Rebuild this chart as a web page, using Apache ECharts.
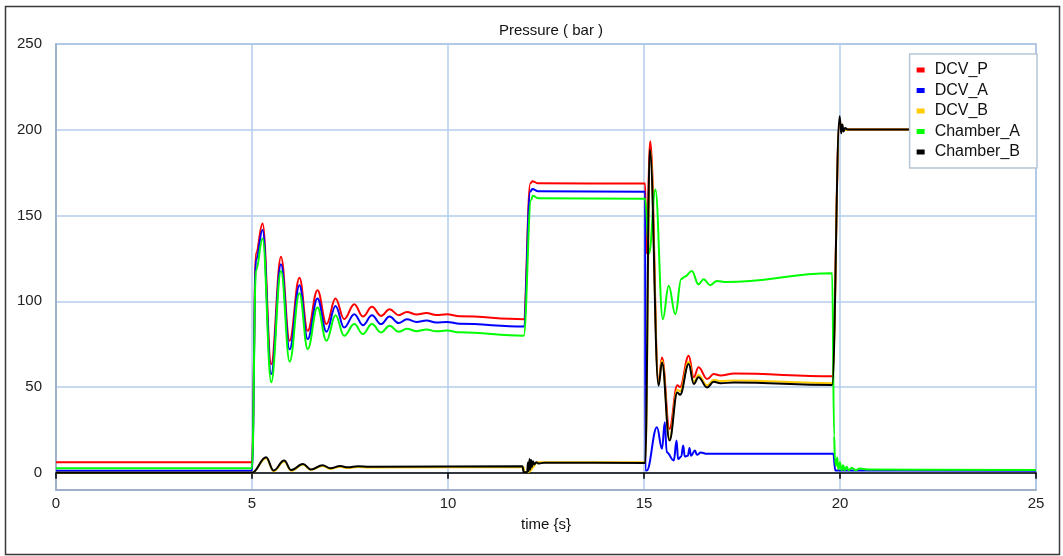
<!DOCTYPE html>
<html>
<head>
<meta charset="utf-8">
<title>Pressure ( bar )</title>
<script src="https://cdn.jsdelivr.net/npm/echarts@6/dist/echarts.min.js"></script>
<style>
    html, body { margin: 0; padding: 0; background: #fff; }
    #chart { width: 1063px; height: 556px; }
</style>
</head>
<body>
<div id="chart"></div>
<script>
// tick labels
var xTicks = [0, 5, 10, 15, 20, 25];
var yTicks = [0, 50, 100, 150, 200, 250];

var seriesNames = ["DCV_P", "DCV_A", "DCV_B", "Chamber_A", "Chamber_B"];
var seriesColors = ["#ff0000", "#0000ff", "#ffcc00", "#00ff00", "#000000"];

// [time (s), pressure (bar)], mostly peaks and troughs
var dcvP = [
    [0, 6.2], [5.0, 6.2], [5.1, 128], [5.27, 145.4], [5.49, 63.4], [5.74, 126], [5.96, 77], [6.21, 113.8],
    [6.42, 82.8], [6.67, 106.5], [6.9, 86.7], [7.13, 101.6], [7.35, 89.6], [7.61, 98.3], [7.83, 91.1],
    [8.06, 96.8], [8.29, 91.5], [8.51, 95.4], [8.74, 91.9], [8.95, 93.8], [9.2, 92.3], [9.45, 93.2],
    [9.7, 92], [9.97, 92.4], [10.3, 91.3], [11.93, 89.6], [12.1, 168.7], [12.15, 170], [12.3, 168.8],
    [15.03, 168.7], [15.06, 128], [15.16, 193.3], [15.37, 53], [15.46, 67.3], [15.65, 25.6], [15.85, 51],
    [15.92, 50], [16.14, 68.2], [16.27, 55.7], [16.39, 61.5], [16.61, 54.7], [16.78, 57.6], [16.95, 56.8],
    [17.3, 57.9], [19.8, 56.3], [19.99, 205], [20.05, 199.5], [20.2, 200.1], [25, 200.1]
];

var dcvA = [
    [0, 1.2], [5.0, 1.2], [5.1, 124], [5.27, 141.5], [5.49, 57.6], [5.74, 121.6], [5.96, 72], [6.21, 109.4],
    [6.42, 78], [6.67, 101.6], [6.9, 82.2], [7.13, 97.3], [7.35, 84.7], [7.61, 92.5], [7.83, 86.1],
    [8.06, 91.9], [8.29, 86.7], [8.51, 91.1], [8.74, 87.3], [8.95, 89.5], [9.2, 87.9], [9.45, 88.8],
    [9.7, 87.6], [9.97, 88], [10.3, 86.9], [11.93, 85.3], [12.1, 164], [12.15, 165.5], [12.3, 164.2],
    [15.03, 163.9], [15.035, 1.4], [15.07, 1.4], [15.33, 26.6], [15.46, 14], [15.53, 29.5], [15.58, 12],
    [15.76, 7.2], [15.83, 18.8], [15.87, 8], [15.95, 9.5], [16.0, 16], [16.04, 9.5], [16.12, 10],
    [16.16, 14.5], [16.2, 10], [16.3, 13], [16.35, 10.5], [16.45, 11.8], [16.61, 11.1], [19.83, 11.1],
    [19.88, 1.4], [25, 1.2]
];

var dcvB = [
    [0, 0], [5.0, 0], [5.36, 8.5], [5.55, 1], [5.82, 6.6], [6.0, 1.2], [6.3, 4.8], [6.5, 1.7], [6.8, 4],
    [7.0, 2.3], [7.25, 3.5], [7.45, 2.8], [7.7, 3.4], [8, 3.1], [11.93, 3.3], [11.95, 0.4], [12.05, 0.5],
    [12.3, 6.2], [15.03, 6.2], [15.16, 188], [15.37, 52], [15.46, 65.5], [15.65, 20], [15.85, 48.5],
    [15.92, 47.5], [16.14, 64.8], [16.27, 53], [16.39, 57], [16.61, 51], [16.78, 54.3], [16.95, 53.5],
    [17.3, 53.8], [19.8, 52.3], [19.99, 205], [20.05, 199.5], [20.2, 200.1], [25, 200.1]
];

var chamberA = [
    [0, 2.7], [5.0, 2.7], [5.1, 118], [5.27, 136.5], [5.49, 52.8], [5.74, 117.7], [5.96, 64.8],
    [6.21, 104.7], [6.42, 72.1], [6.67, 96.4], [6.9, 77], [7.13, 91.9], [7.35, 79.9], [7.61, 86.7],
    [7.83, 80.9], [8.06, 86.7], [8.29, 81.8], [8.51, 85.7], [8.74, 82.2], [8.95, 84], [9.2, 82.6],
    [9.45, 83.6], [9.7, 82.5], [9.97, 83], [10.3, 81.9], [11.93, 79.9], [12.12, 159], [12.16, 161.5],
    [12.3, 160.1], [15.03, 159.8], [15.13, 128], [15.29, 165.2], [15.48, 89.6], [15.63, 109], [15.8, 92.5],
    [15.95, 113], [16.05, 114.5], [16.22, 117.7], [16.39, 109.9], [16.52, 112.9], [16.69, 109.4],
    [16.86, 111.9], [17.1, 111.2], [19.8, 116.3], [19.85, 21.7], [19.87, 8], [19.9, 4.2], [19.93, 9],
    [19.96, 2], [20, 6], [20.04, 1.5], [20.08, 4.5], [20.12, 1.5], [20.17, 3.5], [20.22, 1.5], [20.3, 3],
    [20.4, 1.5], [20.5, 2.5], [20.7, 1.9], [25, 1.6]
];

var chamberB = [
    [0, 0], [5.0, 0], [5.36, 9.1], [5.55, 1.4], [5.82, 7.2], [6.0, 1.6], [6.3, 5.2], [6.5, 2], [6.8, 4.4],
    [7.0, 2.7], [7.25, 4], [7.45, 3.2], [7.7, 3.9], [8, 3.6], [11.9, 3.9], [11.93, 0.4], [12.02, 0.4],
    [12.04, 6], [12.06, 1], [12.08, 8], [12.1, 2], [12.12, 7.5], [12.14, 3.5], [12.17, 6.8], [12.2, 4.8],
    [12.25, 6.2], [12.32, 5.4], [12.45, 5.9], [15.03, 5.8], [15.15, 188.5], [15.37, 50.8], [15.46, 64.4],
    [15.65, 18.8], [15.85, 46.9], [15.92, 45.5], [16.14, 63.4], [16.27, 51.8], [16.39, 55.7], [16.61, 49.8],
    [16.78, 53.1], [16.95, 52.3], [17.3, 52.6], [19.8, 51.2], [19.99, 207.9], [20.03, 198], [20.06, 203],
    [20.09, 199], [20.13, 201], [20.2, 200.1], [25, 200.1]
];

var seriesData = [dcvP, dcvA, dcvB, chamberA, chamberB];

var font = "Liberation Sans, Arial, sans-serif";
var frameColor = "#98abc4";
var gridColor = "#b3cdec";

var chart = echarts.init(document.getElementById("chart"), null, { renderer: "canvas" });

chart.setOption({
    animation: false,
    backgroundColor: "#fff",
    textStyle: { fontFamily: font },
    title: {
        text: "Pressure ( bar )",
        left: 546,
        textAlign: "center",
        top: 18,
        textStyle: { fontFamily: font, fontSize: 15, fontWeight: "normal", color: "#111" }
    },
    legend: {
        data: seriesNames,
        orient: "vertical",
        right: 26,
        top: 54,
        z: 10,
        padding: [8, 17, 8, 7],
        itemGap: 4.5,
        itemWidth: 8,
        itemHeight: 5,
        icon: "rect",
        backgroundColor: "#fff",
        borderColor: "#b7c5d6",
        borderWidth: 1.5,
        textStyle: { fontFamily: font, fontSize: 16, color: "#111", padding: [0, 0, 0, 5] }
    },
    grid: {
        left: 56,
        right: 27,
        top: 44,
        bottom: 66,
        show: true,
        borderColor: frameColor,
        borderWidth: 1.5
    },
    xAxis: [
        {
            type: "value",
            min: 0,
            max: 25,
            interval: 5,
            name: "time {s}",
            nameLocation: "middle",
            nameGap: 27,
            nameTextStyle: { fontFamily: font, fontSize: 15, color: "#111" },
            axisLine: { onZero: false, lineStyle: { color: frameColor, width: 1.5 } },
            axisTick: { show: false },
            axisLabel: { fontFamily: font, fontSize: 15, color: "#222", margin: 6 },
            splitLine: { show: true, lineStyle: { color: gridColor, width: 1.5 } }
        },
        {
            // black zero line with ticks, as in the original plot
            type: "value",
            position: "bottom",
            min: 0,
            max: 25,
            interval: 5,
            axisLine: { onZero: true, lineStyle: { color: "#000", width: 1.5 } },
            axisTick: { show: true, length: 6, lineStyle: { color: "#000", width: 1.5 } },
            axisLabel: { show: false },
            splitLine: { show: false }
        }
    ],
    yAxis: {
        type: "value",
        min: -10,
        max: 250,
        axisLine: { show: true, lineStyle: { color: frameColor, width: 1.5 } },
        axisTick: { show: false, customValues: yTicks },
        axisLabel: { customValues: yTicks, fontFamily: font, fontSize: 15, color: "#222", margin: 14 },
        splitLine: { show: true, lineStyle: { color: gridColor, width: 1.5 } }
    },
    graphic: [
        {
            type: "rect",
            left: 3,
            top: 4,
            shape: { width: 1054, height: 548 },
            style: { fill: "none", stroke: "#3a3a3a", lineWidth: 1.5 },
            silent: true
        }
    ],
    series: seriesNames.map(function (name, i) {
        return {
            name: name,
            type: "line",
            data: seriesData[i],
            showSymbol: false,
            symbol: "none",
            smooth: 0.4,
            smoothMonotone: "x",
            color: seriesColors[i],
            lineStyle: { color: seriesColors[i], width: 2 },
            z: 2
        };
    })
});
</script>
</body>
</html>
